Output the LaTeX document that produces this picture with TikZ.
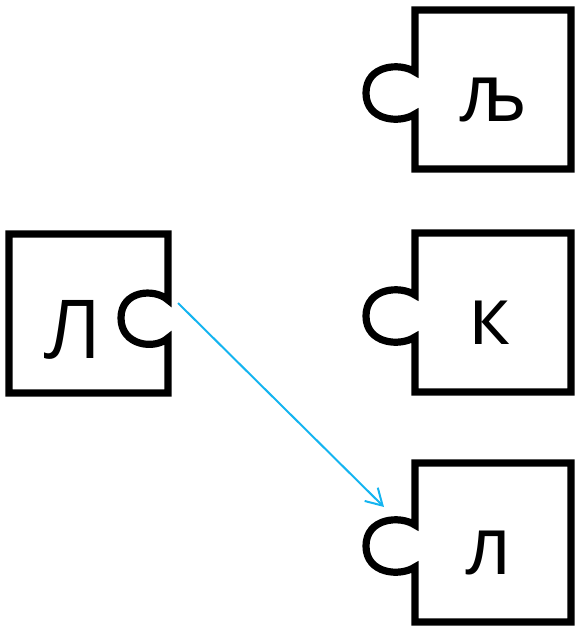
\documentclass[tikz,border=0pt]{standalone}
\usepackage{fontspec}
\setmainfont{Open Sans}
\usetikzlibrary{arrows.meta,positioning}
\definecolor{linkcolor}{RGB}{20,180,240}

\tikzset{
  piece/.style={line width=5.4pt,line join=miter},
  glyph/.style={inner sep=0pt,font=\fontsize{61}{72}\selectfont},
  link/.style={draw=linkcolor,line width=1.5pt,-{Straight Barb[length=12pt,width=14pt,line width=1.5pt]}}
}

\begin{document}
\begin{tikzpicture}[x=0.75pt,y=-0.75pt]
\useasboundingbox (0,0) rectangle (575,626);

% left piece, socket on the right
\draw[piece] (9,234) -- (168,234) -- (168,300)
  .. controls (155,288) and (121,290) .. (121,318)
  .. controls (121,346) and (155,350) .. (168,338)
  -- (168,393) -- (9,393) -- cycle;
\node[glyph] (big) at (73,330) {Л};
\coordinate (sock) at (178,303);

% right pieces, tab on the left
\foreach \n/\y/\t/\x in {top/10/љ/494, mid/233/к/490, bot/463/л/489} {
    \draw[piece] (571,\y) -- (415,\y) -- (415,\y+62)
      .. controls (400,\y+52) and (366,\y+55) .. (366,\y+83)
      .. controls (366,\y+111) and (400,\y+114) .. (415,\y+104)
      -- (415,\y+159) -- (571,\y+159) -- cycle;
    \node[glyph] (\n) at (\x,\y+90) {\t};
}
\coordinate (tab) at (384,507);

\draw[link] (sock) -- (tab);
\end{tikzpicture}
\end{document}
